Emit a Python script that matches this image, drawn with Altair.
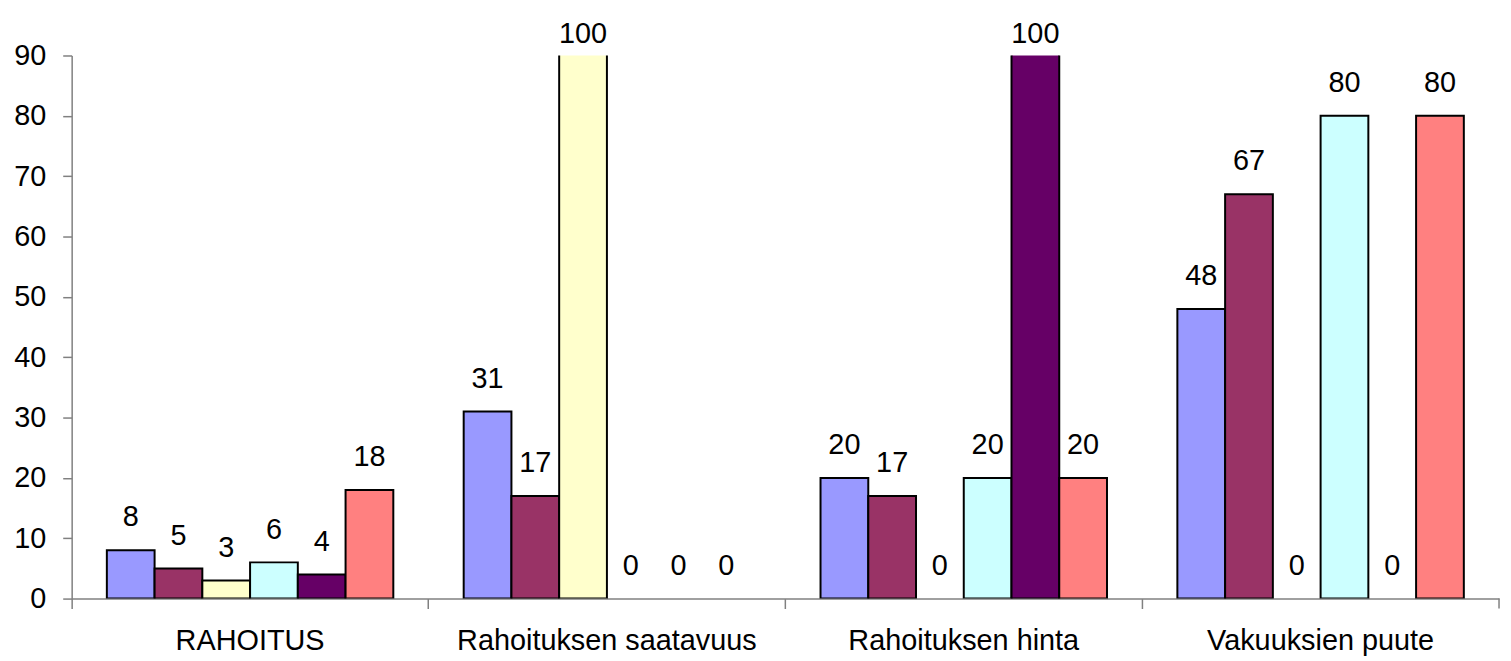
import altair as alt
import pandas as pd

categories = ["RAHOITUS", "Rahoituksen saatavuus", "Rahoituksen hinta", "Vakuuksien puute"]
series_names = ["S1", "S2", "S3", "S4", "S5", "S6"]
series_colors = ["#9999FF", "#993366", "#FFFFCC", "#CCFFFF", "#660066", "#FF8080"]
s1 = [8, 31, 20, 48]
s2 = [5, 17, 17, 67]
s3 = [3, 100, 0, 0]
s4 = [6, 0, 20, 80]
s5 = [4, 0, 100, 0]
s6 = [18, 0, 20, 80]
all_series = [s1, s2, s3, s4, s5, s6]

Y_MAX = 90
W, H = 1435, 546

rows = []
for name, vals in zip(series_names, all_series):
    for cat, v in zip(categories, vals):
        rows.append({"category": cat, "series": name, "value": v})
df = pd.DataFrame(rows)

FONT = "Liberation Sans"
FS = 29
AXC = "#808080"

x_scale = alt.Scale(domain=categories, paddingInner=0, paddingOuter=0)
x_enc = alt.X("category:N", sort=categories, scale=x_scale,
              axis=alt.Axis(title=None, labelAngle=0, bandPosition=0, tickSize=10,
                            labelPadding=18, labelFontSize=FS, labelFont=FONT, labelLimit=0,
                            labelColor="black", domainColor=AXC, tickColor=AXC,
                            domainWidth=1.5, tickWidth=1.5))
xoff = alt.XOffset("series:N", sort=series_names,
                   scale=alt.Scale(domain=series_names, paddingInner=0, paddingOuter=0.737))
y_scale = alt.Scale(domain=[0, Y_MAX], nice=False, zero=True)

base = alt.Chart(df)

bars = base.transform_filter(alt.datum.value > 0).mark_bar(
    stroke="black", strokeWidth=2, clip=True
).encode(
    x=x_enc,
    xOffset=xoff,
    y=alt.Y("value:Q", scale=y_scale,
            axis=alt.Axis(title=None, values=list(range(0, 91, 10)), grid=False,
                          tickSize=9, labelPadding=17, labelFontSize=FS, labelFont=FONT,
                          labelColor="black", domainColor=AXC, tickColor=AXC,
                          domainWidth=1.5, tickWidth=1.5)),
    color=alt.Color("series:N", sort=series_names,
                    scale=alt.Scale(domain=series_names, range=series_colors), legend=None),
)

labels_in = base.transform_filter(alt.datum.value < Y_MAX).mark_text(
    baseline="alphabetic", dy=-24, fontSize=FS, font=FONT, color="black"
).encode(
    x=alt.X("category:N", sort=categories),
    xOffset=xoff,
    y=alt.Y("value:Q", scale=y_scale),
    text=alt.Text("value:Q"),
)

labels_clip = base.transform_filter(alt.datum.value >= Y_MAX).transform_calculate(
    shown=f"min(datum.value, {Y_MAX})"
).mark_text(
    baseline="alphabetic", dy=-13, fontSize=FS, font=FONT, color="black"
).encode(
    x=alt.X("category:N", sort=categories),
    xOffset=xoff,
    y=alt.Y("shown:Q", scale=y_scale),
    text=alt.Text("value:Q"),
)

# closing tick at the right end of the category axis
end_tick = alt.Chart(pd.DataFrame({"category": [categories[-1]]})).mark_rule(
    color=AXC, strokeWidth=1.5
).encode(
    x=alt.X("category:N", sort=categories, bandPosition=1),
    y=alt.value(H),
    y2=alt.value(H + 10),
)

chart = alt.layer(bars, labels_in, labels_clip, end_tick).properties(
    width=W, height=H,
    autosize=alt.AutoSizeParams(type="none"),
    padding={"left": 64, "top": 46, "right": 4, "bottom": 60},
).configure_view(stroke=None)

chart.save("out.html", embed_options={"renderer": "svg", "actions": False})
